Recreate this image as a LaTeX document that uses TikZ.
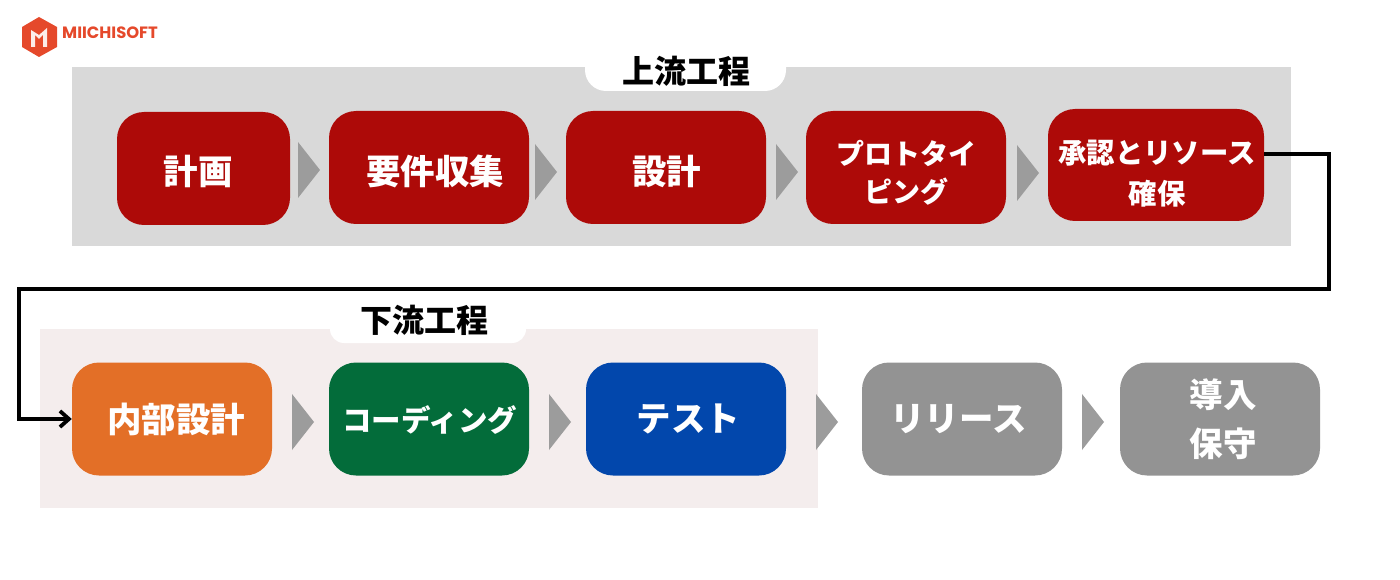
\documentclass[tikz,border=0pt]{standalone}
\usepackage{fontspec}
\usetikzlibrary{arrows.meta}
\newfontfamily\cjk{Noto Sans CJK JP}
\setsansfont{Poppins}
\definecolor{upred}{HTML}{AD0A08}
\definecolor{inorange}{HTML}{E36F27}
\definecolor{codegreen}{HTML}{036C3A}
\definecolor{testblue}{HTML}{0247AC}
\definecolor{stepgrey}{HTML}{939393}
\definecolor{chevgrey}{HTML}{9C9C9C}
\definecolor{upback}{HTML}{D9D9D9}
\definecolor{downback}{HTML}{F4EDED}
\definecolor{logored}{HTML}{E5492B}
\newcommand{\lbl}[3]{\hspace*{#1}\raisebox{-#2}[\height][\depth]{#3}}

\begin{document}
\begin{tikzpicture}[x=1pt,y=-1pt,
            box/.style={rounded corners=27pt,minimum height=113pt,inner sep=0pt,
                text=white,align=center,font=\cjk\bfseries\fontsize{34.5}{42}\selectfont},
            wide/.style={box,minimum width=200pt},
            small/.style={font=\cjk\bfseries\fontsize{28}{38}\selectfont},
            title/.style={inner sep=0pt,font=\cjk\bfseries\fontsize{32}{38}\selectfont},
            chev/.style={fill=chevgrey},
            link/.style={draw=black,line width=3.8pt,line join=miter}]
    \useasboundingbox (0,0) rectangle (1400,580);

    % panels
    \fill[upback] (72,67) rectangle (1291,246);
    \fill[downback] (40,329) rectangle (818,508);
    \fill[white,rounded corners=21pt] (585,30) rectangle (786,91);
    \fill[white,rounded corners=14pt] (330,300) rectangle (526,343);
    \node[title] (uptitle) at (686,71) {上流工程};
    \node[title] (downtitle) at (424,320) {下流工程};

    % upper row
    \node[box,fill=upred,minimum width=173pt] (plan) at (203.5,168.5) {\lbl{-11pt}{3pt}{計画}};
    \node[wide,fill=upred] (require) at (429,167.5) {\lbl{12pt}{4pt}{要件収集}};
    \node[wide,fill=upred] (design) at (666,167.5) {\lbl{1pt}{4pt}{設計}};
    \node[wide,small,fill=upred] (proto) at (906,167.5) {\lbl{0pt}{5pt}{プロトタイ}\\\lbl{0pt}{5pt}{ピング}};
    \node[box,small,fill=upred,minimum width=216pt,minimum height=112pt,font=\cjk\bfseries\fontsize{28.4}{41}\selectfont] (approve) at (1156,165) {\lbl{2pt}{8.5pt}{承認とリソース}\\\lbl{2pt}{8.5pt}{確保}};

    % lower row
    \node[wide,fill=inorange] (inner) at (172,419) {\lbl{8pt}{0pt}{内部設計}};
    \node[wide,small,fill=codegreen,font=\cjk\bfseries\fontsize{29.5}{40}\selectfont] (coding) at (429,419) {\lbl{1pt}{1pt}{コーディング}};
    \node[wide,fill=testblue] (test) at (686,419) {\lbl{5pt}{0pt}{テスト}};
    \node[wide,fill=stepgrey] (release) at (962,419) {\lbl{-7pt}{0pt}{リリース}};
    \node[wide,fill=stepgrey,font=\cjk\bfseries\fontsize{33.5}{49}\selectfont] (install) at (1220,419) {\lbl{6pt}{0pt}{導入}\\\lbl{6pt}{0pt}{保守}};

    % chevrons
    \foreach \x/\y in {298/170,535/172,776/172,1017/173,292/422,549/422,816/422,1082/422}
        \fill[chev] (\x,\y-28) -- (\x+22,\y) -- (\x,\y+28) -- cycle;

    \coordinate (turn) at (19,289);
    \draw[link,-{Straight Barb[length=9pt,width=16pt,line width=3.8pt]}]
        ([yshift=11pt]approve.east) -| (1329,289) -- (turn) |- (inner.west);

    % logo
    \fill[logored] (39,17) -- (57,27) -- (57,47) -- (39,57) -- (22,47) -- (22,27) -- cycle;
    \fill[white!90!logored] (31,47) -- (31,30) -- (39,35) -- (47,28) -- (47,47) -- (43,47)
        -- (43,35) -- (39,39) -- (35,35) -- (35,47) -- cycle;
    \node[inner sep=0pt,anchor=west,text=logored,font=\sffamily\bfseries\fontsize{16.4}{18}\selectfont] (brand) at (62,32.5) {MIICHISOFT};
\end{tikzpicture}
\end{document}
